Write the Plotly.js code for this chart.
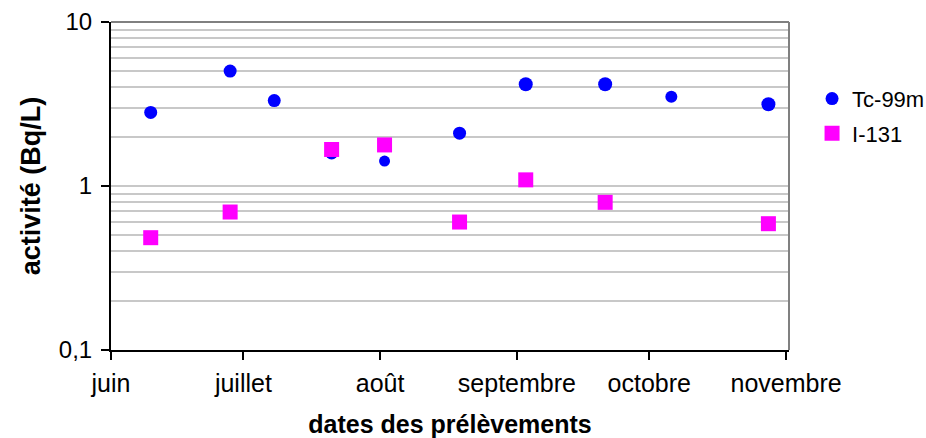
<!DOCTYPE html>
<html>
<head>
<meta charset="utf-8">
<script src="https://cdn.plot.ly/plotly-3.0.1.min.js"></script>
<style>html,body{margin:0;padding:0;background:#fff;}#chart{width:926px;height:438px;}</style>
</head>
<body>
<div id="chart"></div>
<script>
// Data
const tcDates = ['2009-06-10','2009-06-28','2009-07-08','2009-07-21','2009-08-02','2009-08-19','2009-09-03','2009-09-21','2009-10-06','2009-10-28'];
const tcValues = [2.81, 5.02, 3.32, 1.59, 1.42, 2.10, 4.17, 4.17, 3.50, 3.15];
const iDates = ['2009-06-10','2009-06-28','2009-07-21','2009-08-02','2009-08-19','2009-09-03','2009-09-21','2009-10-28'];
const iValues = [0.484, 0.694, 1.67, 1.78, 0.603, 1.09, 0.795, 0.589];
const monthTicks = ['2009-06-01','2009-07-01','2009-08-01','2009-09-01','2009-10-01','2009-11-01'];
const monthLabels = ['juin','juillet','août','septembre','octobre','novembre'];
const yTicks = [0.1, 1, 10];
const yLabels = ['0,1', '1', '10'];

const FONT = 'Liberation Sans, Arial, sans-serif';
const minorVals = [];
[0.1, 1].forEach(function (d) { for (let k = 2; k <= 9; k++) minorVals.push(+(k * d).toPrecision(2)); });

const traces = [
  {
    x: tcDates, y: tcValues, name: 'Tc-99m', type: 'scatter', mode: 'markers',
    legendgroup: 'a',
    marker: { symbol: 'circle', color: '#0000ff', opacity: 1, size: [13, 13, 13, 13, 11, 13, 14, 14, 12, 14], line: { width: 0 } }
  },
  {
    x: iDates, y: iValues, name: 'I-131', type: 'scatter', mode: 'markers',
    legendgroup: 'b',
    marker: { symbol: 'square', color: '#ff00ff', opacity: 1, size: 15, line: { width: 0 } }
  }
];

const layout = {
  width: 926, height: 438,
  margin: { l: 111, r: 137, t: 22, b: 88, autoexpand: false },
  paper_bgcolor: '#ffffff', plot_bgcolor: '#ffffff',
  font: { family: FONT, color: '#000000', size: 22 },
  showlegend: true,
  legend: {
    x: 1.034, xanchor: 'left', y: 0.83, yanchor: 'top',
    font: { family: FONT, size: 22, color: '#000' },
    traceorder: 'grouped', tracegroupgap: 3,
    bgcolor: 'rgba(0,0,0,0)', itemsizing: 'trace'
  },
  xaxis: {
    type: 'date',
    range: ['2009-06-01', '2009-11-01 16:00'],
    tickmode: 'array', tickvals: monthTicks, ticktext: monthLabels,
    ticks: 'outside', ticklen: 8, tickwidth: 2, tickcolor: '#000',
    showline: true, linecolor: '#000', linewidth: 2,
    showgrid: false, zeroline: false, automargin: false,
    ticklabelstandoff: 2,
    tickfont: { family: FONT, size: 25, color: '#000' },
    title: { text: '<b>dates des prélèvements</b>', font: { family: FONT, size: 25, color: '#000' }, standoff: 21 }
  },
  yaxis: {
    type: 'log',
    range: [-1, 1],
    tickmode: 'array', tickvals: yTicks, ticktext: yLabels,
    ticks: 'outside', ticklen: 8, tickwidth: 2, tickcolor: '#000',
    showline: true, linecolor: '#000', linewidth: 2,
    showgrid: true, gridcolor: '#c8c8c8', gridwidth: 2,
    minor: { tickmode: 'array', tickvals: minorVals, showgrid: true, gridcolor: '#c8c8c8', gridwidth: 2, ticks: '' },
    zeroline: false, automargin: false,
    ticklabelstandoff: 4,
    tickfont: { family: FONT, size: 24, color: '#000' },
    title: { text: '<b>activité (Bq/L)</b>', font: { family: FONT, size: 27, color: '#000' }, standoff: 10 }
  },
  shapes: [
    { type: 'line', xref: 'paper', yref: 'paper', x0: 0, x1: 1, y0: 1, y1: 1, line: { color: '#808080', width: 2 }, layer: 'above' },
    { type: 'line', xref: 'paper', yref: 'paper', x0: 1, x1: 1, y0: 0, y1: 1, line: { color: '#808080', width: 2 }, layer: 'above' }
  ]
};

Plotly.newPlot('chart', traces, layout, { displayModeBar: false, staticPlot: true });
</script>
</body>
</html>
